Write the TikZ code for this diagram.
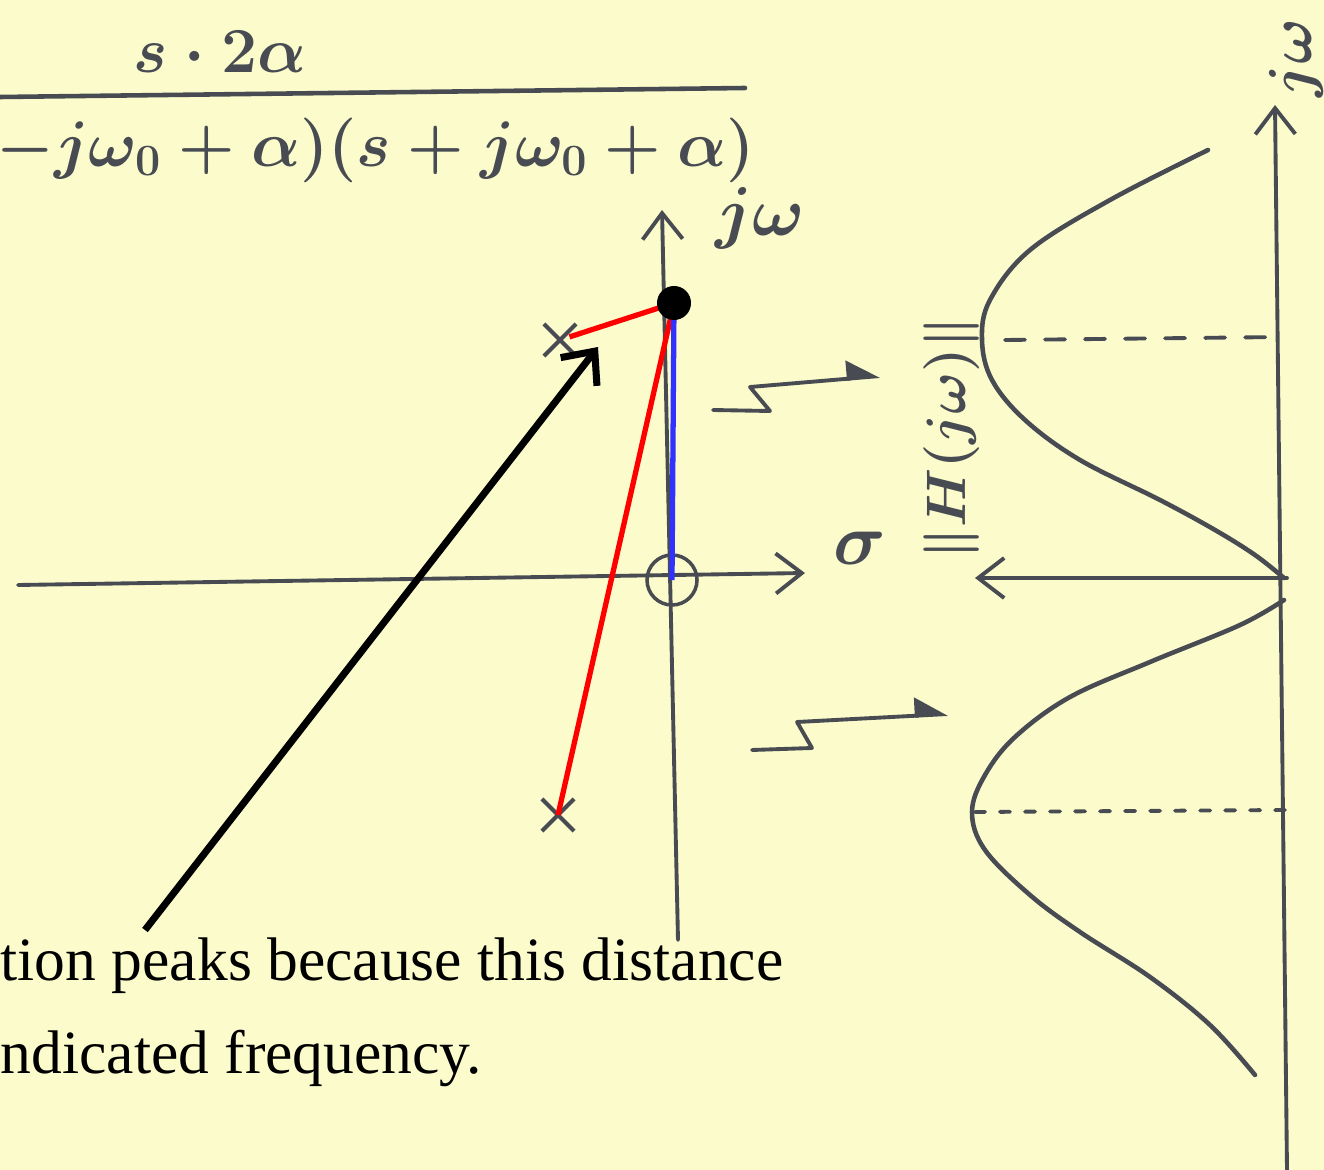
\documentclass[tikz,border=0pt]{standalone}
\usepackage{graphicx}
\usepackage{fontspec}
\setmainfont{Liberation Serif}
\usetikzlibrary{positioning,arrows.meta,shapes.misc}
\definecolor{Paper}{RGB}{251,251,204}
\definecolor{Ink}{RGB}{72,76,82}
\definecolor{BlueLine}{RGB}{50,50,255}

\begin{document}
\begin{tikzpicture}[
    x=0.01cm, y=-0.01cm,
    ink/.style={draw=Ink, line width=1.1pt, line cap=round, line join=round},
    axis/.style={ink, -{Straight Barb[length=2.6mm, width=4mm, line width=1.1pt]}},
    pole/.style={cross out, draw=Ink, line width=1.2pt, minimum size=0.28cm, inner sep=0pt},
    zeromark/.style={circle, draw=Ink, line width=1pt, minimum size=0.5cm, inner sep=0pt},
    probe/.style={circle, fill=black, minimum size=0.34cm, inner sep=0pt},
    hand/.style={text=Ink, inner sep=0pt, font=\fontsize{20.74}{24}\selectfont\boldmath},
    dist/.style={red, line width=1.5pt},
    squiggle/.style={ink, -{Triangle[harpoon, length=3mm, width=3.6mm]}},
    pointer/.style={black, line width=2pt, -{Straight Barb[length=2.6mm, width=4.6mm, line width=2pt]}},
    note/.style={anchor=base west, inner sep=0pt, font=\fontsize{17.5}{21}\selectfont},
]
\fill[Paper] (0,0) rectangle (1324,1170);
\useasboundingbox (0,0) rectangle (1324,1170);

% transfer function
\node[hand] (num) at (220,52) {\scalebox{0.88}{$s\cdot 2\alpha$}};
\coordinate (barL) at (0,97);
\coordinate (barR) at (745,88);
\draw[ink, line width=1.3pt] (barL) -- (barR);
\node[hand, anchor=west] (den) at (-4,150) {\scalebox{0.885}{$-j\omega_0+\alpha)(s+j\omega_0+\alpha)$}};

% s-plane
\coordinate (sigL) at (18,585);
\coordinate (sigR) at (805,573);
\coordinate (jwB) at (678,940);
\coordinate (jwT) at (662,210);
\draw[axis] (sigL) -- (sigR);
\draw[axis] (jwB) -- (jwT);
\node[hand] (sigLbl) at (860,548) {$\sigma$};
\node[hand] (jwLbl) at (760,218) {\scalebox{0.95}{$j\omega$}};

\node[zeromark] (zero) at (672,580) {};
\node[pole] (pUp) at (560,340) {};
\node[pole] (pDown) at (558,815) {};
\coordinate (probeC) at (674,303);

\draw[dist, shorten >=0.1cm] (probeC) -- (pUp.center);
\draw[dist] (probeC) -- (pDown.center);
\draw[BlueLine, line width=1.5pt] (probeC) -- (zero.center);
\node[probe] (probe) at (probeC) {};

% moving along the axis
\coordinate (sqA1) at (713,410);
\coordinate (sqA2) at (770,411);
\coordinate (sqA3) at (750,387);
\coordinate (sqA4) at (880,376);
\draw[squiggle] (sqA1) -- (sqA2) -- (sqA3) -- (sqA4);
\coordinate (sqB1) at (752,750);
\coordinate (sqB2) at (812,748);
\coordinate (sqB3) at (797,722);
\coordinate (sqB4) at (948,714);
\draw[squiggle] (sqB1) -- (sqB2) -- (sqB3) -- (sqB4);

% magnitude plot, turned on its side
\coordinate (wB) at (1287,1170);
\coordinate (wT) at (1275,105);
\coordinate (magO) at (1287,578);
\coordinate (magL) at (975,578);
\draw[axis] (wB) -- (wT);
\draw[axis] (magO) -- (magL);
\node[hand, rotate=90, font=\fontsize{17.28}{20}\selectfont\boldmath] (wLbl) at (1296,58) {$j\omega$};
\node[hand, rotate=90, font=\fontsize{17.28}{20}\selectfont\boldmath] (magLbl) at (952,438) {\scalebox{0.915}{$\|H(j\omega)\|$}};

\draw[ink, line width=1.3pt] plot[smooth, tension=0.6] coordinates {
    (1208,150) (1110,200) (1030,250) (990,300) (982,340) (992,380) (1025,420)
    (1080,460) (1160,500) (1215,530) (1255,555) (1284,578)};
\draw[ink, line width=1.3pt] plot[smooth, tension=0.6] coordinates {
    (1284,600) (1240,625) (1150,662) (1070,697) (1015,737) (985,775) (972,812)
    (985,850) (1030,895) (1080,932) (1150,977) (1210,1025) (1255,1075)};
\draw[ink, dash pattern=on 0.2cm off 0.2cm] (1005,340) -- (1282,337);
\draw[ink, dash pattern=on 0.1cm off 0.15cm] (975,812) -- (1285,810);

% explanation
\node[note] (note1) at (0,980) {tion peaks because this distance};
\node[note] (note2) at (0,1073) {ndicated frequency.};
\coordinate (arrTail) at (145,930);
\coordinate (arrHead) at (598,347);
\draw[pointer] (arrTail) -- (arrHead);
\end{tikzpicture}
\end{document}
